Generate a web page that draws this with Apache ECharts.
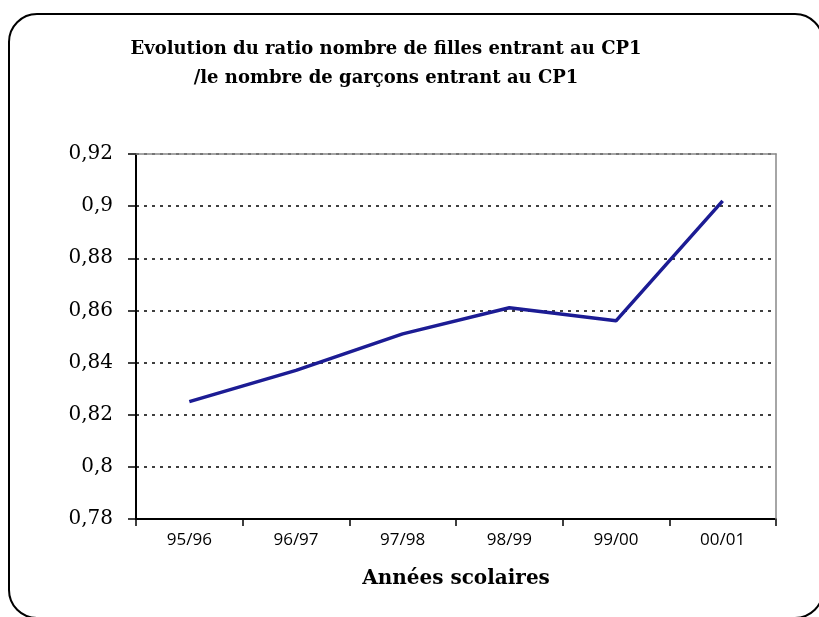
<!DOCTYPE html>
<html><head><meta charset="utf-8">
<script src="https://cdn.jsdelivr.net/npm/echarts@6/dist/echarts.min.js"></script>
<style>html,body{margin:0;padding:0;background:#fff}#c{width:819px;height:617px}</style>
</head><body><div id="c"></div>
<script>
var categories = ['95/96','96/97','97/98','98/99','99/00','00/01'];
var ratio = [0.825, 0.837, 0.851, 0.861, 0.856, 0.902];
var yTicks = [0.78, 0.8, 0.82, 0.84, 0.86, 0.88, 0.9, 0.92];
var titleText = 'Evolution du ratio nombre de filles entrant au CP1\n/le nombre de garçons entrant au CP1';
var xName = 'Années scolaires';

var chart = echarts.init(document.getElementById('c'), null, {renderer:'canvas'});
chart.setOption({
  animation:false,
  backgroundColor:'#fff',
  graphic:[{type:'rect', shape:{x:9,y:14,width:814,height:604,r:28}, style:{fill:null, stroke:'#000', lineWidth:2}, z:-1}],
  title:{text:titleText, left:381, top:30, textAlign:'center',
    textStyle:{fontFamily:'DejaVu Serif', fontWeight:'bold', fontSize:18, lineHeight:29, color:'#000'}},
  grid:{left:136, right:43, top:154, bottom:98, containLabel:false},
  xAxis:[{type:'category', data:categories, boundaryGap:true,
    name:xName, nameLocation:'middle', nameGap:50,
    nameTextStyle:{fontFamily:'DejaVu Serif', fontWeight:'bold', fontSize:20, color:'#000'},
    axisLine:{lineStyle:{color:'#000', width:2}},
    axisTick:{show:true, length:7, lineStyle:{color:'#000', width:1.5}},
    axisLabel:{fontFamily:'Open Sans', fontSize:17, color:'#000', margin:13}},
   {type:'category', data:categories, position:'top', z:5,
    axisLine:{lineStyle:{color:'#888', width:1.5}}, axisTick:{show:false}, axisLabel:{show:false}}],
  yAxis:[{type:'value', min:yTicks[0], max:yTicks[yTicks.length-1], interval:0.02,
    axisLine:{show:true, lineStyle:{color:'#000', width:2}},
    axisTick:{show:true, length:8, lineStyle:{color:'#000', width:1.5}},
    axisLabel:{fontFamily:'DejaVu Serif', fontSize:20, color:'#000', margin:23,
      formatter:function(v){ var s = String(+v.toFixed(2)); return s.replace('.', ','); }},
    splitLine:{show:true, lineStyle:{color:'#000', width:1.5, type:[3,5]}}},
   {type:'value', min:yTicks[0], max:yTicks[yTicks.length-1], interval:0.02, position:'right', z:5,
    axisLine:{show:true, lineStyle:{color:'#888', width:1.5}}, axisTick:{show:false}, axisLabel:{show:false}, splitLine:{show:false}}],
  series:[{type:'line', data:ratio, symbol:'none', lineStyle:{color:'#1c1c94', width:3.5}, z:10}]
});
</script></body></html>
